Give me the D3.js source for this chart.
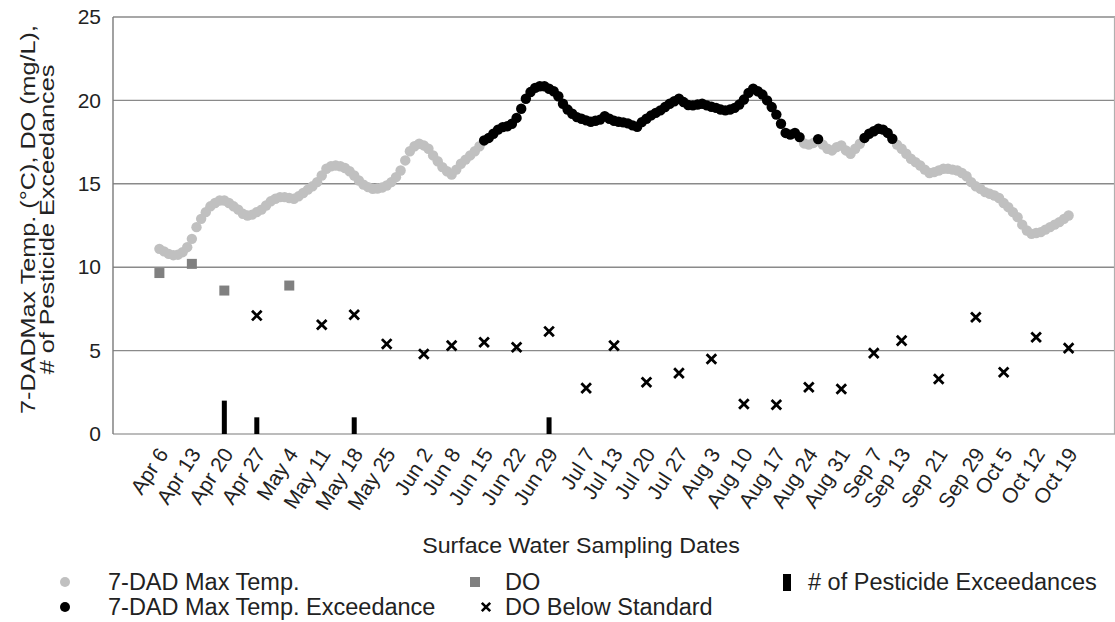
<!DOCTYPE html>
<html><head><meta charset="utf-8">
<script src="https://cdn.jsdelivr.net/npm/d3@7"></script>
<style>
html,body{margin:0;padding:0;background:#fff;}
svg{display:block;font-family:"Liberation Sans",Arial,sans-serif;}
</style></head>
<body>
<svg id="chart" width="1115" height="622"></svg>
<script>
// ---- data ----
const sampleDates = ["2021-04-06","2021-04-13","2021-04-20","2021-04-27","2021-05-04","2021-05-11","2021-05-18","2021-05-25","2021-06-02","2021-06-08","2021-06-15","2021-06-22","2021-06-29","2021-07-07","2021-07-13","2021-07-20","2021-07-27","2021-08-03","2021-08-10","2021-08-17","2021-08-24","2021-08-31","2021-09-07","2021-09-13","2021-09-21","2021-09-29","2021-10-05","2021-10-12","2021-10-19"];
const tickLabels = ["Apr 6","Apr 13","Apr 20","Apr 27","May 4","May 11","May 18","May 25","Jun 2","Jun 8","Jun 15","Jun 22","Jun 29","Jul 7","Jul 13","Jul 20","Jul 27","Aug 3","Aug 10","Aug 17","Aug 24","Aug 31","Sep 7","Sep 13","Sep 21","Sep 29","Oct 5","Oct 12","Oct 19"];
const doValues = [9.65,10.2,8.6,7.1,8.9,6.55,7.15,5.4,4.8,5.3,5.5,5.2,6.15,2.75,5.3,3.1,3.65,4.5,1.8,1.75,2.8,2.7,4.85,5.6,3.3,7.0,3.7,5.8,5.15];
const pesticideCounts = [0,0,2,1,0,0,1,0,0,0,0,0,1,0,0,0,0,0,0,0,0,0,0,0,0,0,0,0,0];
const doStandard = 8;
const tempStart = "2021-04-06";
const tempStandard = 17.5;
const tempValues = [
11.1,10.95,10.8,10.72,10.75,10.9,11.2,11.7,12.4,12.9,
13.3,13.65,13.85,14.0,14.0,13.85,13.65,13.45,13.2,13.1,
13.15,13.3,13.45,13.7,13.95,14.1,14.2,14.2,14.15,14.1,
14.25,14.45,14.65,14.85,15.1,15.5,15.9,16.05,16.1,16.05,
15.95,15.75,15.5,15.2,14.95,14.8,14.7,14.72,14.78,14.9,
15.1,15.4,15.8,16.4,16.95,17.25,17.4,17.3,17.1,16.7,
16.35,16.0,15.75,15.55,15.85,16.2,16.45,16.7,16.95,17.25,
17.6,17.75,18.0,18.25,18.4,18.45,18.6,18.95,19.5,20.1,
20.5,20.75,20.85,20.85,20.7,20.55,20.25,19.8,19.45,19.2,
19.0,18.9,18.8,18.72,18.78,18.85,19.05,18.9,18.78,18.72,
18.68,18.62,18.5,18.42,18.7,18.9,19.1,19.25,19.4,19.6,
19.8,19.95,20.1,19.9,19.72,19.7,19.75,19.8,19.7,19.62,
19.55,19.45,19.4,19.45,19.55,19.75,20.05,20.45,20.7,20.55,
20.35,20.0,19.6,19.15,18.6,18.05,17.95,18.05,17.8,17.42,
17.35,17.45,17.68,17.35,17.1,17.0,17.2,17.3,17.0,16.8,
17.1,17.4,17.75,18.0,18.15,18.3,18.25,18.05,17.7,17.35,
17.1,16.8,16.5,16.3,16.1,15.85,15.65,15.7,15.8,15.9,
15.9,15.85,15.8,15.65,15.45,15.1,14.85,14.7,14.5,14.4,
14.3,14.15,13.85,13.6,13.3,13.0,12.55,12.2,12.0,12.05,
12.1,12.25,12.4,12.55,12.7,12.9,13.1];
const yTicks = [0,5,10,15,20,25];

// ---- build ----
const parse = d3.utcParse("%Y-%m-%d");
const samples = sampleDates.map((d,i)=>({date:parse(d), label:tickLabels[i], dov:doValues[i], pest:pesticideCounts[i]}));
const t0 = parse(tempStart);
const temps = tempValues.map((v,i)=>({date:d3.utcDay.offset(t0,i), v}));

const svg = d3.select("#chart");
const L=113, R=1115, T=17, B=434;
const x = d3.scaleUtc().domain([parse("2021-03-27"), parse("2021-10-29")]).range([L,R]);
const y = d3.scaleLinear().domain([0,25]).range([B,T]);
const txt = "#222";

// gridlines
svg.append("g").selectAll("line").data(yTicks.filter(t=>t>0)).join("line")
  .attr("x1",L).attr("x2",R).attr("y1",d=>y(d)).attr("y2",d=>y(d))
  .attr("stroke","#8a8a8a").attr("stroke-width",1.4);
// frame
svg.append("line").attr("x1",R-0.5).attr("x2",R-0.5).attr("y1",T).attr("y2",B).attr("stroke","#b0b0b0").attr("stroke-width",1.2);
svg.append("line").attr("x1",L).attr("x2",R).attr("y1",B).attr("y2",B).attr("stroke","#a6a6a6").attr("stroke-width",1.6);
svg.append("line").attr("x1",L).attr("x2",L).attr("y1",T).attr("y2",B).attr("stroke","#7a7a7a").attr("stroke-width",1.4);

// y axis labels
const yAxis = d3.axisLeft(y).tickValues(yTicks).tickSize(0).tickPadding(12);
const yg = svg.append("g").attr("transform",`translate(${L},0)`).call(yAxis);
yg.select(".domain").remove();
yg.selectAll("text").attr("font-size",21).attr("fill",txt).attr("font-family","Liberation Sans, Arial, sans-serif");

// x axis labels
const xAxis = d3.axisBottom(x).tickValues(samples.map(s=>s.date)).tickFormat((d,i)=>tickLabels[i]).tickSize(0);
const xg = svg.append("g").attr("transform",`translate(0,${B})`).call(xAxis);
xg.select(".domain").remove();
xg.selectAll("text").attr("font-size",21).attr("fill",txt).attr("font-family","Liberation Sans, Arial, sans-serif")
  .attr("text-anchor","end").attr("dy","0.35em")
  .attr("transform","translate(3,16) rotate(-57)").attr("y",0).attr("x",0);

// pesticide bars
svg.append("g").selectAll("rect").data(samples.filter(s=>s.pest>0)).join("rect")
  .attr("x",d=>x(d.date)-2.5).attr("width",5)
  .attr("y",d=>y(d.pest)).attr("height",d=>y(0)-y(d.pest)).attr("fill","#000");

// temperature points
svg.append("g").selectAll("circle").data(temps.filter(d=>d.v<tempStandard)).join("circle")
  .attr("cx",d=>x(d.date)).attr("cy",d=>y(d.v)).attr("r",5.2).attr("fill","#c0c0c0");
svg.append("g").selectAll("circle").data(temps.filter(d=>d.v>=tempStandard)).join("circle")
  .attr("cx",d=>x(d.date)).attr("cy",d=>y(d.v)).attr("r",5.2).attr("fill","#000");

// DO squares
svg.append("g").selectAll("rect").data(samples.filter(s=>s.dov>=doStandard)).join("rect")
  .attr("x",d=>x(d.date)-5).attr("y",d=>y(d.dov)-5).attr("width",10).attr("height",10).attr("fill","#808080");
// DO below standard X
const xMark = (g,cx,cy,s,w)=>{
  g.append("path").attr("d",`M${cx-s},${cy-s}L${cx+s},${cy+s}M${cx-s},${cy+s}L${cx+s},${cy-s}`)
   .attr("stroke","#000").attr("stroke-width",w).attr("fill","none");
};
const xg2 = svg.append("g");
samples.filter(s=>s.dov<doStandard).forEach(d=>xMark(xg2,x(d.date),y(d.dov),4.8,2.8));

// text helper: stretched along its own direction
const stext = (g,tx,ty,rot,sx,size,anchor,str)=>
  g.append("text").attr("transform",`translate(${tx},${ty}) rotate(${rot}) scale(${sx},1)`)
   .attr("text-anchor",anchor).attr("font-size",size).attr("fill",txt).text(str);

// axis titles
stext(svg,581,553,0,1.08,21.5,"middle","Surface Water Sampling Dates");
const yc = (T+B)/2 - 6;
stext(svg,35,yc,-90,1.2,21,"middle","7-DADMax Temp. (°C), DO (mg/L),");
stext(svg,54,yc,-90,1.2,21,"middle","# of Pesticide Exceedances");

// legend
const lg = svg.append("g");
const r1=582, r2=607, lsz=23.5, lsx=1, bl=8;
lg.append("circle").attr("cx",65).attr("cy",r1).attr("r",5).attr("fill","#c0c0c0");
stext(lg,108,r1+bl,0,lsx,lsz,"start","7-DAD Max Temp.");
lg.append("circle").attr("cx",65).attr("cy",r2).attr("r",5).attr("fill","#000");
stext(lg,108,r2+bl,0,lsx,lsz,"start","7-DAD Max Temp. Exceedance");
lg.append("rect").attr("x",470).attr("y",r1-5).attr("width",10).attr("height",10).attr("fill","#808080");
stext(lg,505,r1+bl,0,lsx,lsz,"start","DO");
xMark(lg,486,r2,4.2,2.6);
stext(lg,505,r2+bl,0,lsx,lsz,"start","DO Below Standard");
lg.append("rect").attr("x",783).attr("y",r1-8).attr("width",8).attr("height",17).attr("fill","#000");
stext(lg,808,r1+bl,0,lsx,lsz,"start","# of Pesticide Exceedances");
</script>
</body></html>
